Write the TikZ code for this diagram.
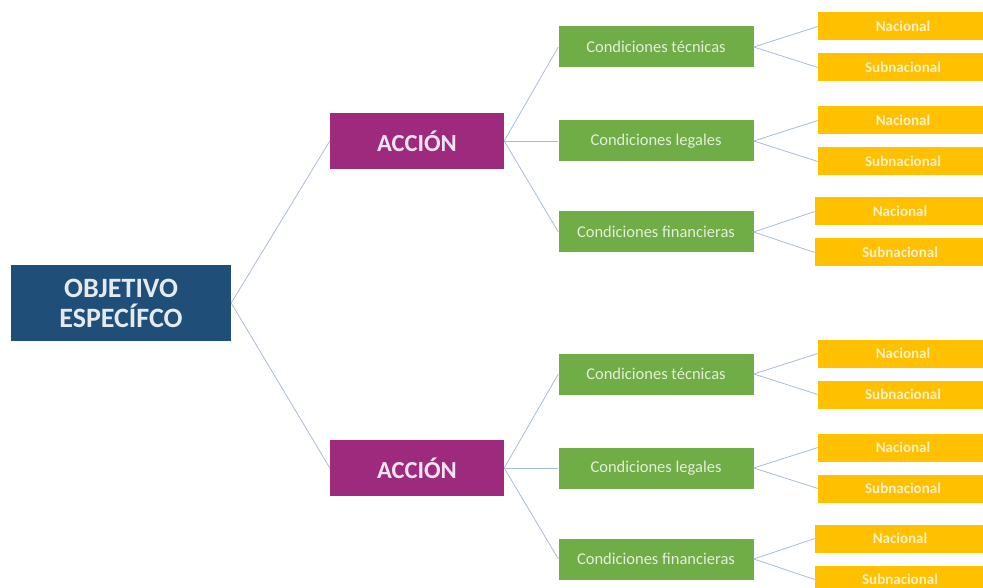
\documentclass[tikz,border=0pt]{standalone}
\usepackage{fontspec}
\setmainfont{Carlito}
\usetikzlibrary{positioning}

\definecolor{objblue}{HTML}{1F4E79}
\definecolor{accpurple}{HTML}{9E2A7E}
\definecolor{condgreen}{HTML}{70AD47}
\definecolor{nivelgold}{HTML}{FFC000}
\definecolor{linkgray}{HTML}{A9BCD6}

\tikzset{
  objbox/.style={fill=objblue, text=white!88!objblue, minimum width=220pt, minimum height=76pt,
    align=center, font=\fontsize{28}{30}\selectfont\bfseries, inner sep=0pt},
  accbox/.style={fill=accpurple, text=white!88!accpurple, minimum width=174pt, minimum height=56pt,
    font=\fontsize{24.5}{28}\selectfont\bfseries, inner sep=0pt},
  condbox/.style={fill=condgreen, text=white!80!condgreen, minimum width=195pt, minimum height=41pt,
    font=\fontsize{16.5}{19}\selectfont, inner sep=0pt},
  nivelbox/.style={fill=nivelgold, text=white!78!nivelgold, minimum width=170pt, minimum height=28pt,
    font=\fontsize{15}{17}\selectfont\bfseries, inner sep=0pt},
  link/.style={draw=linkgray, line width=0.8pt},
}

\begin{document}
\begin{tikzpicture}[x=1pt, y=-1pt]
  \clip (0,0) rectangle (983,588);
  \fill[white] (0,0) rectangle (983,588);

  \node[objbox] (obj) at (121,303) {OBJETIVO\\ESPECÍFCO};

  \foreach \g/\dy in {1/0, 2/327} {
    \node[accbox] (acc\g) at (417,141+\dy) {ACCIÓN};
    \draw[link] (obj.east) -- (acc\g.west);
    \foreach \c/\cy/\nx/\txt in {1/47/903/técnicas, 2/141/903/legales, 3/232/900/financieras} {
      \node[condbox] (cond\g-\c) at (656,\cy+\dy) {Condiciones \txt};
      \node[nivelbox] (nac\g-\c) at (\nx,\cy+\dy-20.5) {Nacional};
      \node[nivelbox] (sub\g-\c) at (\nx,\cy+\dy+20.5) {Subnacional};
      \draw[link] (acc\g.east) -- (cond\g-\c.west);
      \draw[link] (cond\g-\c.east) -- (nac\g-\c.west);
      \draw[link] (cond\g-\c.east) -- (sub\g-\c.west);
    }
  }
\end{tikzpicture}
\end{document}
